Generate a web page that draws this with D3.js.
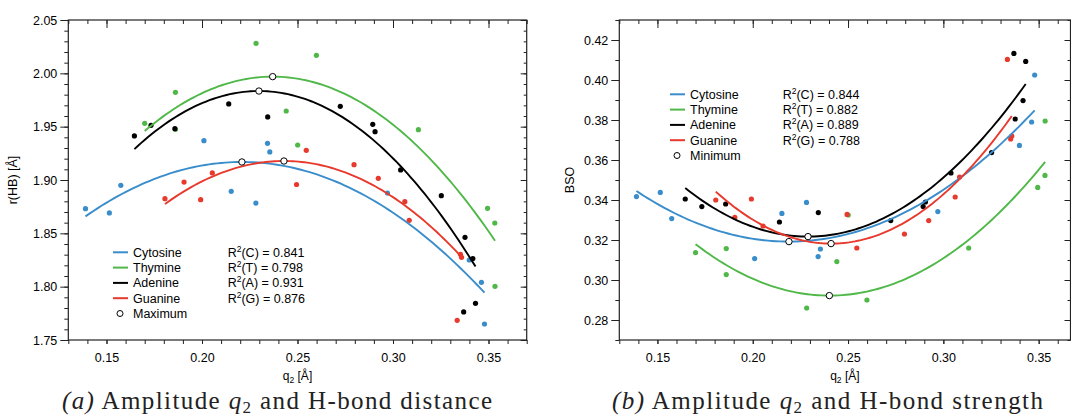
<!DOCTYPE html>
<html>
<head>
<meta charset="utf-8">
<script src="https://cdn.jsdelivr.net/npm/d3@7"></script>
<style>
  body { margin: 0; background: #fff; }
  svg text { font-family: "Liberation Sans", Arial, Helvetica, sans-serif; }
</style>
</head>
<body>
<div id="chart"></div>
<script>
// q2 amplitudes per base (shared by both panels)
const qC = [0.1390, 0.1515, 0.1575, 0.2010, 0.2153, 0.2282, 0.2343, 0.2355, 0.2971, 0.3399, 0.3463, 0.3479];
const qT = [0.1700, 0.1861, 0.1861, 0.2283, 0.2441, 0.2501, 0.2599, 0.3133, 0.3495, 0.3533, 0.3534];
const qA = [0.1646, 0.1733, 0.1858, 0.2140, 0.2344, 0.2724, 0.2894, 0.2906, 0.3040, 0.3253, 0.3370, 0.3377, 0.3418, 0.3432];
const qG = [0.1806, 0.1906, 0.1993, 0.2054, 0.2495, 0.2546, 0.2796, 0.2923, 0.3062, 0.3085, 0.3336, 0.3353, 0.3359];

// (a) H-bond distance r(HB)
const rC = [1.8731, 1.8691, 1.8950, 1.9369, 1.8894, 1.8784, 1.9344, 1.9263, 1.8878, 1.8250, 1.8041, 1.7650];
const rT = [1.9531, 1.9822, 1.9475, 2.0281, 1.9647, 1.9328, 2.0169, 1.9472, 1.8734, 1.8597, 1.8003];
const rA = [1.9413, 1.9513, 1.9481, 1.9713, 1.9591, 1.9691, 1.9522, 1.9453, 1.9094, 1.8853, 1.7763, 1.8463, 1.8263, 1.7844];
const rG = [1.8825, 1.8981, 1.8816, 1.9066, 1.8958, 1.9278, 1.9144, 1.9016, 1.8797, 1.8622, 1.7684, 1.8303, 1.8275];

// (b) bond strength BSO
const bsoC = [0.3417, 0.3438, 0.3307, 0.3107, 0.3333, 0.3388, 0.3117, 0.3155, 0.3342, 0.3673, 0.3790, 0.4025];
const bsoT = [0.3137, 0.3027, 0.3157, 0.2860, 0.3092, 0.3325, 0.2900, 0.3160, 0.3463, 0.3523, 0.3795];
const bsoA = [0.3405, 0.3367, 0.3380, 0.3290, 0.3337, 0.3297, 0.3367, 0.3390, 0.3535, 0.3637, 0.4133, 0.3805, 0.3897, 0.4093];
const bsoG = [0.3400, 0.3313, 0.3405, 0.3270, 0.3328, 0.3160, 0.3230, 0.3297, 0.3415, 0.3515, 0.4103, 0.3705, 0.3720];

// quadratic fits: [vertex q, vertex value, curvature]
const fitR = [[0.2209, 1.9169, -7.6], [0.2370, 1.9969, -11.35], [0.2298, 1.9834, -12.8], [0.2429, 1.9178, -10.4]];
const fitBSO = [[0.2190, 0.3192, 3.95], [0.2402, 0.2922, 5.22], [0.2290, 0.3217, 5.85], [0.2411, 0.3182, 7.1]];

const names = ["Cytosine", "Thymine", "Adenine", "Guanine"];
const letters = ["C", "T", "A", "G"];
const r2R = ["0.841", "0.798", "0.931", "0.876"];
const r2BSO = ["0.844", "0.882", "0.889", "0.788"];
const colors = ["#3a8dcb", "#4fb848", "#000000", "#e8392d"];

const xTicks = [0.15, 0.20, 0.25, 0.30, 0.35];
const rTicks = [1.75, 1.80, 1.85, 1.90, 1.95, 2.00, 2.05];
const bsoTicks = [0.28, 0.30, 0.32, 0.34, 0.36, 0.38, 0.40, 0.42];

const W = 1071, H = 418;
const svg = d3.select("#chart").append("svg").attr("width", W).attr("height", H);

drawPanel({
    x0: 68.3, x1: 526.7, y0: 340, y1: 20,
    xDomain: [0.13, 0.37], yDomain: [1.75, 2.05],
    yTicks: rTicks,
    ys: [rC, rT, rA, rG], fits: fitR, r2: r2R,
    yLabel: "r(HB) [\u00c5]", yLabelX: 17,
    legend: { x: 113, y: 252.3, rx: 227.7, mark: "Maximum" },
    caption: "(a)", captionEnd: " and H-bond distance", capX: 62, capW: 430
});

drawPanel({
    x0: 619.3, x1: 1070.5, y0: 340, y1: 20,
    xDomain: [0.13, 0.3667], yDomain: [0.27, 0.43],
    yTicks: bsoTicks,
    ys: [bsoC, bsoT, bsoA, bsoG], fits: fitBSO, r2: r2BSO,
    yLabel: "BSO", yLabelX: 574,
    legend: { x: 670, y: 94.3, rx: 782.7, mark: "Minimum" },
    caption: "(b)", captionEnd: " and H-bond strength", capX: 612, capW: 431
});

function drawPanel(p) {
    const qs = [qC, qT, qA, qG];
    const x = d3.scaleLinear().domain(p.xDomain).range([p.x0, p.x1]);
    const y = d3.scaleLinear().domain(p.yDomain).range([p.y0, p.y1]);
    const g = svg.append("g");

    // minor ticks every 0.01
    const xMinor = d3.range(Math.ceil(p.xDomain[0] * 100), Math.floor(p.xDomain[1] * 100) + 1).map(d => d / 100);
    const yMinor = d3.range(Math.round(p.yDomain[0] * 100), Math.round(p.yDomain[1] * 100) + 1).map(d => d / 100);

    const axisStyle = sel => { sel.select(".domain").remove(); sel.selectAll("line").attr("stroke", "#222"); };

    // bottom
    g.append("g").attr("transform", `translate(0,${p.y0})`)
        .call(d3.axisBottom(x).tickValues(xMinor).tickSize(4).tickFormat(""))
        .call(axisStyle);
    g.append("g").attr("transform", `translate(0,${p.y0})`)
        .call(d3.axisBottom(x).tickValues(xTicks).tickSize(4).tickPadding(9).tickFormat(d3.format(".2f")))
        .call(axisStyle)
        .selectAll("text").attr("font-size", 12.5).attr("fill", "#000");
    // top (inward)
    g.append("g").attr("transform", `translate(0,${p.y1})`)
        .call(d3.axisTop(x).tickValues(xMinor).tickSize(-4).tickFormat(""))
        .call(axisStyle);
    g.append("g").attr("transform", `translate(0,${p.y1})`)
        .call(d3.axisTop(x).tickValues(xTicks).tickSize(-8).tickFormat(""))
        .call(axisStyle);
    // left
    g.append("g").attr("transform", `translate(${p.x0},0)`)
        .call(d3.axisLeft(y).tickValues(yMinor).tickSize(4).tickFormat(""))
        .call(axisStyle);
    g.append("g").attr("transform", `translate(${p.x0},0)`)
        .call(d3.axisLeft(y).tickValues(p.yTicks).tickSize(8).tickPadding(3).tickFormat(d3.format(".2f")))
        .call(axisStyle)
        .selectAll("text").attr("font-size", 12.5).attr("fill", "#000");
    // right (inward)
    g.append("g").attr("transform", `translate(${p.x1},0)`)
        .call(d3.axisRight(y).tickValues(yMinor).tickSize(-3).tickFormat(""))
        .call(axisStyle);
    g.append("g").attr("transform", `translate(${p.x1},0)`)
        .call(d3.axisRight(y).tickValues(p.yTicks).tickSize(-6).tickFormat(""))
        .call(axisStyle);

    g.append("rect")
        .attr("x", p.x0).attr("y", p.y1)
        .attr("width", p.x1 - p.x0).attr("height", p.y0 - p.y1)
        .attr("fill", "none").attr("stroke", "#222").attr("stroke-width", 1.2);

    // scatter points
    qs.forEach((q, i) => {
        g.selectAll(null).data(q.map((d, j) => [d, p.ys[i][j]]))
            .enter().append("circle")
            .attr("cx", d => x(d[0])).attr("cy", d => y(d[1]))
            .attr("r", 2.6).attr("fill", colors[i]);
    });

    // fitted curves
    const line = d3.line().x(d => x(d[0])).y(d => y(d[1]));
    qs.forEach((q, i) => {
        const f = p.fits[i];
        const pts = d3.range(0, 101).map(k => {
            const qq = d3.min(q) + (d3.max(q) - d3.min(q)) * k / 100;
            return [qq, f[1] + f[2] * (qq - f[0]) * (qq - f[0])];
        });
        g.append("path").attr("d", line(pts))
            .attr("fill", "none").attr("stroke", colors[i]).attr("stroke-width", 1.9);
    });

    // extremum markers
    g.selectAll(null).data(p.fits).enter().append("circle")
        .attr("cx", d => x(d[0])).attr("cy", d => y(d[1]))
        .attr("r", 3.2).attr("fill", "#fff").attr("stroke", "#000").attr("stroke-width", 1);

    // legend
    const L = p.legend, step = 15.3;
    names.forEach((n, i) => {
        const yy = L.y + i * step;
        g.append("line").attr("x1", L.x).attr("x2", L.x + 15).attr("y1", yy).attr("y2", yy)
            .attr("stroke", colors[i]).attr("stroke-width", 2);
        g.append("text").attr("x", L.x + 20).attr("y", yy + 4.5).attr("font-size", 12.5).text(n);
        const t = g.append("text").attr("x", L.rx).attr("y", yy + 4.5).attr("font-size", 12.5);
        t.append("tspan").text("R");
        t.append("tspan").attr("dy", -5).attr("font-size", 8.5).text("2");
        t.append("tspan").attr("dy", 5).text(`(${letters[i]}) = ${p.r2[i]}`);
    });
    const my = L.y + 4 * step;
    g.append("circle").attr("cx", L.x + 7).attr("cy", my).attr("r", 3)
        .attr("fill", "#fff").attr("stroke", "#000").attr("stroke-width", 1);
    g.append("text").attr("x", L.x + 20).attr("y", my + 4.5).attr("font-size", 12.5).text(L.mark);

    // axis titles
    const xm = (p.x0 + p.x1) / 2;
    const xl = g.append("text").attr("x", xm).attr("y", 380).attr("text-anchor", "middle").attr("font-size", 12);
    xl.append("tspan").text("q");
    xl.append("tspan").attr("dy", 2.5).attr("font-size", 8.5).text("2");
    xl.append("tspan").attr("dy", -2.5).text(" [\u00c5]");

    g.append("text")
        .attr("transform", `translate(${p.yLabelX},${(p.y0 + p.y1) / 2}) rotate(-90)`)
        .attr("text-anchor", "middle").attr("font-size", 12.5).text(p.yLabel);

    // caption
    const c = g.append("text").attr("x", p.capX).attr("y", 409)
        .attr("font-size", 25).attr("textLength", p.capW).attr("lengthAdjust", "spacing")
        .attr("fill", "#222")
        .style("font-family", "'Liberation Serif', 'Times New Roman', serif");
    c.append("tspan").attr("font-style", "italic").text(p.caption);
    c.append("tspan").text(" Amplitude ");
    c.append("tspan").attr("font-style", "italic").text("q");
    c.append("tspan").attr("dy", 4).attr("font-size", 17).text("2");
    c.append("tspan").attr("dy", -4).text(p.captionEnd);
}
</script>
</body>
</html>
